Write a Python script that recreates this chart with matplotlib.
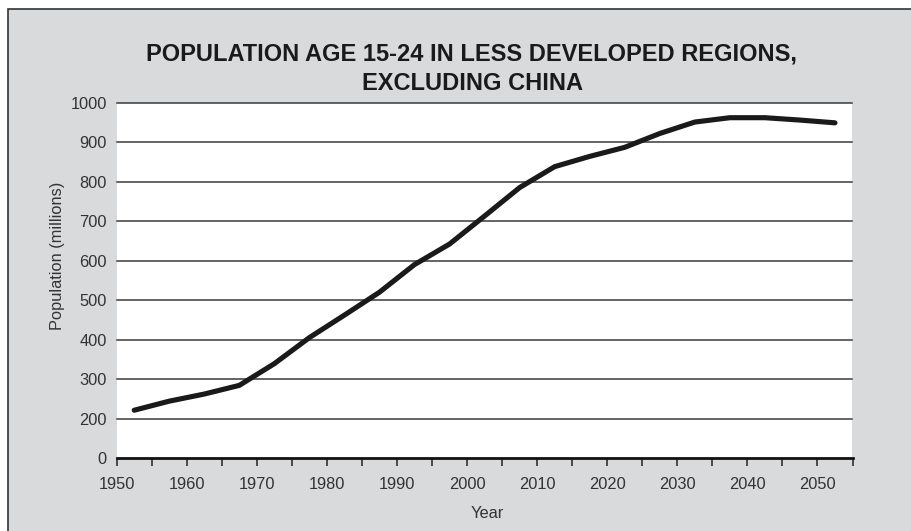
import numpy as np
import matplotlib
matplotlib.use("Agg")
import matplotlib.pyplot as plt
from matplotlib.patches import Rectangle

years = [1952.5, 1957.5, 1962.5, 1967.5, 1972.5, 1977.5, 1982.5, 1987.5, 1992.5,
         1997.5, 2002.5, 2007.5, 2012.5, 2017.5, 2022.5, 2027.5, 2032.5, 2037.5,
         2042.5, 2047.5, 2052.5]
population = [221, 244, 262, 284, 339, 405, 462, 520, 590,
              642, 713, 785, 838, 864, 887, 922, 951, 962,
              962, 956, 949]
yticks = [0, 200, 300, 400, 500, 600, 700, 800, 900, 1000]
xticks_major = [1950, 1960, 1970, 1980, 1990, 2000, 2010, 2020, 2030, 2040, 2050]
xticks_minor = list(range(1955, 2056, 10))
title_lines = ["POPULATION AGE 15-24 IN LESS DEVELOPED REGIONS,", "EXCLUDING CHINA"]
xlabel = "Year"
ylabel = "Population (millions)"

plt.rcParams['font.family'] = ['Liberation Sans', 'DejaVu Sans']

BG = '#d9dadc'
TXT = '#333333'
FS = 11.8

fig = plt.figure(figsize=(9.12, 5.31), dpi=100)
fig.patch.set_facecolor('white')
W, H = 912, 531
# grey panel with border at left/top
fig.patches.append(Rectangle((8 / W, -0.1), 1.2, (531 - 9) / H + 0.1,
                             transform=fig.transFigure, facecolor=BG,
                             edgecolor='#333333', linewidth=1.2, zorder=-10))

AX_L, AX_R, AX_T, AX_B = 116.7, 852.5, 102.7, 458.0
ax = fig.add_axes([AX_L / W, (H - AX_B) / H, (AX_R - AX_L) / W, (AX_B - AX_T) / H])
ax.set_zorder(2)
ax.set_facecolor('white')


def fwd(v):
    v = np.asarray(v, dtype=float)
    return np.where(v < 200, v / 200.0, (v - 200.0) / 100.0 + 1.0)


def inv(p):
    p = np.asarray(p, dtype=float)
    return np.where(p < 1, p * 200.0, (p - 1.0) * 100.0 + 200.0)


ax.set_yscale('function', functions=(fwd, inv))
ax.set_ylim(0, 1000)
ax.set_xlim(1950, 2055)

for v in yticks[1:]:
    ax.axhline(v, color='#3a3a3a', lw=1.1, clip_on=False, zorder=1)

ax.plot(years, population, color='#1a1a1a', lw=3.7, solid_capstyle='round',
        solid_joinstyle='round', zorder=3)

for s in ['left', 'right', 'top']:
    ax.spines[s].set_visible(False)
ax.spines['bottom'].set_linewidth(2.0)
ax.spines['bottom'].set_color('#111111')
ax.spines['bottom'].set_zorder(4)

ax.set_yticks(yticks)
ax.set_yticklabels([str(v) for v in yticks])
ax.yaxis.set_minor_locator(matplotlib.ticker.NullLocator())
ax.tick_params(axis='y', length=0, pad=7, labelsize=FS, labelcolor=TXT)

ax.set_xticks(xticks_major)
ax.set_xticks(xticks_minor, minor=True)
ax.set_xticklabels([str(v) for v in xticks_major])
ax.tick_params(axis='x', which='both', direction='out', length=5.5, width=1.1,
               color='#222222', labelsize=FS, labelcolor=TXT, pad=8)

aw, ah = AX_R - AX_L, AX_B - AX_T
ax.set_xlabel(xlabel, fontsize=FS, color=TXT)
ax.xaxis.label.set_va('baseline')
ax.xaxis.set_label_coords((487 - AX_L) / aw, (AX_B - 518) / ah)
ax.set_ylabel(ylabel, fontsize=FS, color=TXT)
ax.yaxis.set_label_coords((65 - AX_L) / aw, (AX_B - 256) / ah)

for line, yb in zip(title_lines, [60, 90]):
    fig.text(472 / W, 1 - yb / H, line, ha='center', va='baseline', fontsize=17,
             fontweight='bold', color='#1a1a1a')

fig.savefig('out.png', dpi=100, facecolor=fig.get_facecolor())
